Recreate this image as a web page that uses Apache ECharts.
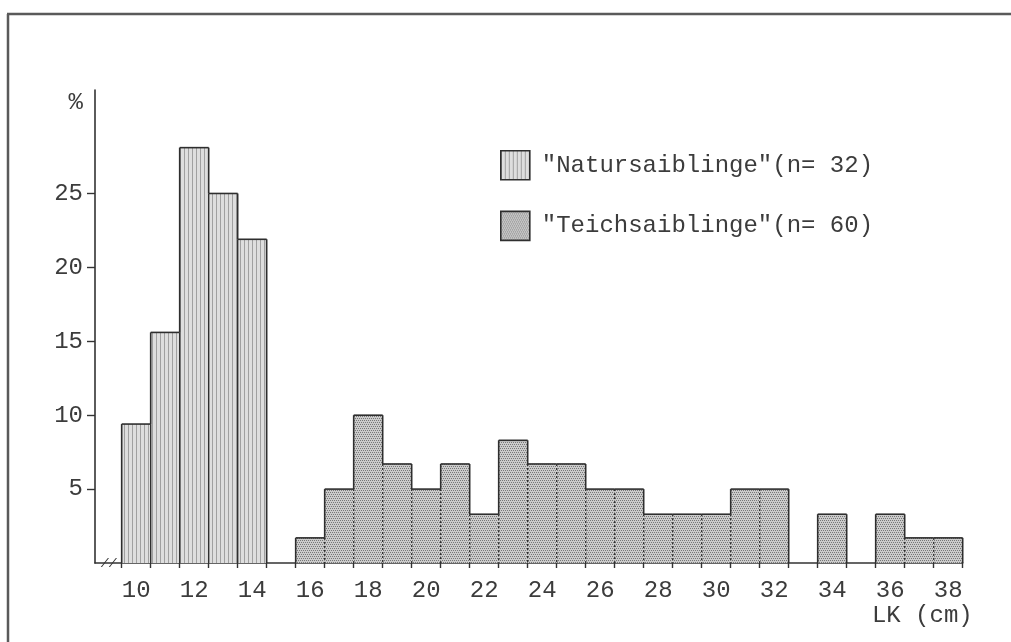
<!DOCTYPE html>
<html>
<head>
<meta charset="utf-8">
<script src="https://cdn.jsdelivr.net/npm/echarts@6/dist/echarts.min.js"></script>
<style>
  html, body { margin: 0; padding: 0; background: #fff; }
  #chart { width: 1011px; height: 642px; }
</style>
</head>
<body>
<div id="chart"></div>
<script>
// Length classes (cm) and percentage shares per class
const natLengths = [10, 11, 12, 13, 14];
const natPercent = [9.4, 15.6, 28.1, 25.0, 21.9];

const teichLengths = [16, 17, 18, 19, 20, 21, 22, 23, 24, 25, 26, 27, 28, 29, 30, 31, 32, 33, 34, 35, 36, 37, 38];
const teichPercent = [1.7, 5.0, 10.0, 6.7, 5.0, 6.7, 3.3, 8.3, 6.7, 6.7, 5.0, 5.0, 3.3, 3.3, 3.3, 5.0, 5.0, 0, 3.3, 0, 3.3, 1.7, 1.7];

const xTickLabels = [10, 12, 14, 16, 18, 20, 22, 24, 26, 28, 30, 32, 34, 36, 38];
const yTickLabels = [5, 10, 15, 20, 25];

const natName = '"Natursaiblinge"(n= 32)';
const teichName = '"Teichsaiblinge"(n= 60)';

const FONT = "'Liberation Mono', 'DejaVu Sans Mono', monospace";
const FS = 24;
const INK = '#3c3c3c';

// Hatch fills: fine vertical stripes and a dense dot raster
function stripePattern() {
  const c = document.createElement('canvas');
  c.width = 4; c.height = 4;
  const g = c.getContext('2d');
  g.fillStyle = '#dedede'; g.fillRect(0, 0, 4, 4);
  g.fillStyle = '#a0a0a0'; g.fillRect(0, 0, 1, 4);
  return { image: c, repeat: 'repeat' };
}
function dotPattern() {
  const c = document.createElement('canvas');
  c.width = 4; c.height = 4;
  const g = c.getContext('2d');
  g.fillStyle = '#cbcbcb'; g.fillRect(0, 0, 4, 4);
  g.fillStyle = '#777777';
  g.fillRect(0, 0, 1, 1); g.fillRect(2, 0, 1, 1);
  g.fillRect(1, 2, 1, 1); g.fillRect(3, 2, 1, 1);
  return { image: c, repeat: 'repeat' };
}
const natFill = stripePattern();
const teichFill = dotPattern();

// Histogram bars: each class spans [x-0.5, x+0.5]; outer edges solid,
// edges shared with a neighbouring bar optionally dashed.
function histogramRenderer(lengths, values, fill, sharedDash) {
  return function (params, api) {
    const i = params.dataIndex;
    const x = api.value(0);
    const v = api.value(1);
    if (!v) return { type: 'group', children: [] };
    const vL = (i > 0 && lengths[i - 1] === x - 1) ? values[i - 1] : 0;
    const vR = (i < lengths.length - 1 && lengths[i + 1] === x + 1) ? values[i + 1] : 0;
    const p0 = api.coord([x - 0.5, 0]);
    const p1 = api.coord([x + 0.5, v]);
    const yL = api.coord([x, Math.min(v, vL)])[1];
    const yR = api.coord([x, Math.min(v, vR)])[1];
    const solid = { stroke: '#2e2e2e', lineWidth: 1.6, fill: null };
    const shared = { stroke: '#303030', lineWidth: 1.4, fill: null, lineDash: sharedDash };
    const children = [
      { type: 'rect', shape: { x: p0[0], y: p1[1], width: p1[0] - p0[0], height: p0[1] - p1[1] },
        style: { fill: fill } },
      { type: 'line', shape: { x1: p0[0], y1: p1[1], x2: p1[0], y2: p1[1] }, style: solid },
      { type: 'line', shape: { x1: p0[0], y1: p1[1], x2: p0[0], y2: yL }, style: solid },
      { type: 'line', shape: { x1: p1[0], y1: p1[1], x2: p1[0], y2: yR }, style: solid }
    ];
    if (vL > 0) {
      children.push({ type: 'line', shape: { x1: p0[0], y1: yL, x2: p0[0], y2: p0[1] }, style: shared });
    }
    return { type: 'group', children: children };
  };
}

// Tick marks at every class boundary
const edgeTicks = [];
for (let e = 9.5; e <= 38.5; e += 1) edgeTicks.push(e);

const chart = echarts.init(document.getElementById('chart'), null, { renderer: 'canvas' });

chart.setOption({
  backgroundColor: '#ffffff',
  animation: false,
  grid: { left: 95, right: 48.3, top: 90, bottom: 79, containLabel: false },
  legend: {
    orient: 'vertical',
    left: 500, top: 150,
    padding: 0,
    itemWidth: 29, itemHeight: 29, itemGap: 30,
    icon: 'rect',
    selectedMode: false,
    textStyle: { fontFamily: FONT, fontSize: FS, color: INK, padding: [2, 0, 0, 7] },
    data: [
      { name: natName, itemStyle: { color: natFill, borderColor: '#2e2e2e', borderWidth: 1.6 } },
      { name: teichName, itemStyle: { color: teichFill, borderColor: '#2e2e2e', borderWidth: 1.6 } }
    ]
  },
  xAxis: {
    type: 'value',
    min: 8.58, max: 38.5,
    splitLine: { show: false },
    axisLine: { show: true, lineStyle: { color: '#333', width: 1.6 } },
    axisTick: { show: true, customValues: edgeTicks, length: 5, lineStyle: { color: '#333', width: 1.4 } },
    axisLabel: { customValues: xTickLabels, margin: 16, fontFamily: FONT, fontSize: FS, color: INK },
    name: 'LK (cm)',
    nameLocation: 'end',
    nameGap: 10,
    nameTextStyle: { fontFamily: FONT, fontSize: FS, color: INK, align: 'right', verticalAlign: 'top', padding: [41, 0, 0, 0] }
  },
  yAxis: {
    type: 'value',
    min: 0, max: 32,
    splitLine: { show: false },
    axisLine: { show: true, lineStyle: { color: '#333', width: 1.6 } },
    axisTick: { show: true, customValues: yTickLabels, length: 8, lineStyle: { color: '#333', width: 1.4 } },
    axisLabel: { customValues: yTickLabels, margin: 12, fontFamily: FONT, fontSize: FS, color: INK },
    name: '%',
    nameLocation: 'end',
    nameGap: -13,
    nameTextStyle: { fontFamily: FONT, fontSize: FS, color: INK, align: 'right', verticalAlign: 'middle', padding: [0, 12, 0, 0] }
  },
  series: [
    {
      name: natName,
      type: 'custom',
      itemStyle: { color: natFill },
      renderItem: histogramRenderer(natLengths, natPercent, natFill, null),
      encode: { x: 0, y: 1 },
      data: natLengths.map((l, i) => [l, natPercent[i]])
    },
    {
      name: teichName,
      type: 'custom',
      itemStyle: { color: teichFill },
      renderItem: histogramRenderer(teichLengths, teichPercent, teichFill, [2, 2]),
      encode: { x: 0, y: 1 },
      data: teichLengths.map((l, i) => [l, teichPercent[i]])
    }
  ]
});

// Page frame and the axis-break mark near the origin
const breakAt = chart.convertToPixel({ xAxisIndex: 0 }, 9.05);
const baseY = chart.convertToPixel({ yAxisIndex: 0 }, 0);
chart.setOption({
  graphic: [
    { type: 'line', shape: { x1: 7, y1: 14, x2: 1011, y2: 14 }, style: { stroke: '#5a5a5a', lineWidth: 2.5 } },
    { type: 'line', shape: { x1: 8, y1: 14, x2: 8, y2: 642 }, style: { stroke: '#5a5a5a', lineWidth: 2.5 } },
    { type: 'text', x: breakAt, y: baseY + 1, style: { text: '//', fontFamily: FONT, fontSize: 13, fontStyle: 'italic', fill: '#333', align: 'center', verticalAlign: 'middle' } }
  ]
});
</script>
</body>
</html>
